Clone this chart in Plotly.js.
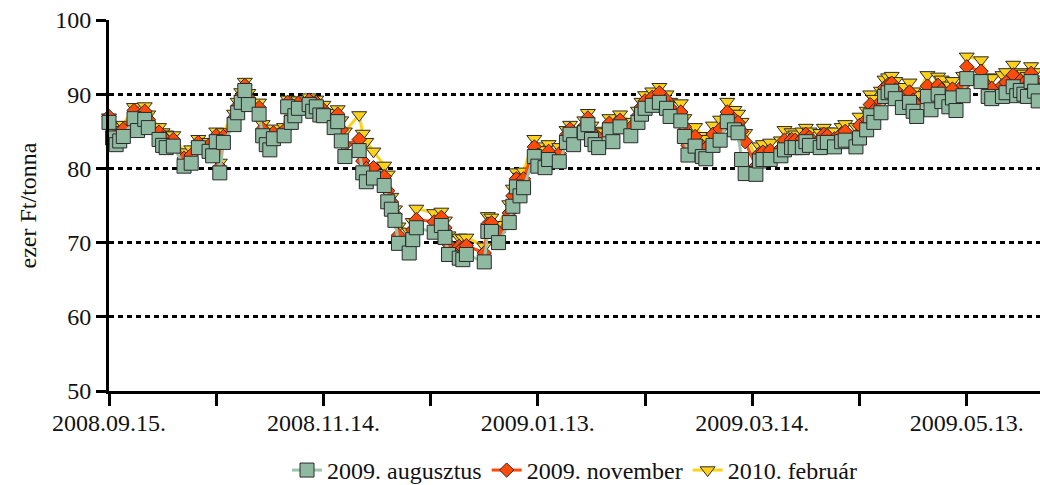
<!DOCTYPE html>
<html>
<head>
<meta charset="utf-8">
<script src="https://cdn.plot.ly/plotly-3.0.1.min.js"></script>
<style>html,body{margin:0;padding:0;background:#fff;}#chart{width:1040px;height:485px;}</style>
</head>
<body>
<div id="chart"></div>
<script>
const dates = [
"2008-09-15","2008-09-16","2008-09-17","2008-09-18","2008-09-19","2008-09-22","2008-09-23","2008-09-25","2008-09-26","2008-09-29",
"2008-09-30","2008-10-01","2008-10-03","2008-10-06","2008-10-08","2008-10-10","2008-10-13","2008-10-14","2008-10-15","2008-10-16",
"2008-10-17","2008-10-20","2008-10-21","2008-10-22","2008-10-23","2008-10-24","2008-10-27","2008-10-28","2008-10-29","2008-10-30",
"2008-10-31","2008-11-03","2008-11-04","2008-11-05","2008-11-06","2008-11-07","2008-11-10","2008-11-11","2008-11-12","2008-11-13",
"2008-11-14","2008-11-17","2008-11-18","2008-11-19","2008-11-20","2008-11-24","2008-11-25","2008-11-26","2008-11-28","2008-12-01",
"2008-12-02","2008-12-03","2008-12-04","2008-12-05","2008-12-08","2008-12-09","2008-12-10","2008-12-15","2008-12-17","2008-12-18",
"2008-12-19","2008-12-22","2008-12-23","2008-12-24","2008-12-29","2008-12-30","2008-12-31","2009-01-02","2009-01-05","2009-01-06",
"2009-01-07","2009-01-08","2009-01-09","2009-01-12","2009-01-13","2009-01-15","2009-01-16","2009-01-19","2009-01-21","2009-01-22",
"2009-01-23","2009-01-26","2009-01-27","2009-01-28","2009-01-29","2009-01-30","2009-02-02","2009-02-03","2009-02-05","2009-02-08",
"2009-02-10","2009-02-11","2009-02-12","2009-02-14","2009-02-16","2009-02-18","2009-02-19","2009-02-22","2009-02-23","2009-02-24",
"2009-02-26","2009-02-28","2009-03-01","2009-03-03","2009-03-05","2009-03-07","2009-03-09","2009-03-10","2009-03-11","2009-03-12",
"2009-03-15","2009-03-16","2009-03-17","2009-03-19","2009-03-22","2009-03-23","2009-03-25","2009-03-26","2009-03-28","2009-03-29",
"2009-03-30","2009-04-02","2009-04-03","2009-04-04","2009-04-06","2009-04-08","2009-04-09","2009-04-12","2009-04-13","2009-04-15",
"2009-04-16","2009-04-17","2009-04-19","2009-04-20","2009-04-21","2009-04-22","2009-04-23","2009-04-25","2009-04-27","2009-04-28",
"2009-04-29","2009-05-02","2009-05-03","2009-05-05","2009-05-06","2009-05-08","2009-05-09","2009-05-10","2009-05-12","2009-05-13",
"2009-05-17","2009-05-19","2009-05-20","2009-05-23","2009-05-24","2009-05-26","2009-05-27","2009-05-28","2009-05-29","2009-05-30",
"2009-05-31","2009-06-01","2009-06-02"
];
const aug2009 = [
86.2,84.1,83.2,83.7,84.3,86.7,85.1,86.6,85.5,83.9,
83.1,82.8,83.0,80.3,80.7,82.8,82.3,81.7,83.6,79.4,
83.5,85.9,87.5,88.9,90.5,88.6,87.3,84.4,83.2,82.5,
84.0,84.4,88.3,86.2,87.1,88.1,88.6,87.7,88.3,87.2,
87.1,85.5,86.3,83.7,81.6,82.4,79.4,78.2,78.7,77.7,
75.5,74.5,73.0,69.9,68.6,70.4,72.0,71.4,72.3,70.7,
68.4,67.9,67.7,68.4,67.4,71.5,71.5,70.0,72.7,74.9,
77.5,76.3,77.4,81.6,80.3,80.1,81.2,80.9,83.5,84.6,
83.2,84.8,85.9,83.9,83.2,82.8,85.2,83.6,85.6,84.4,
86.2,87.3,88.1,88.5,88.9,88.1,87.0,86.4,84.3,81.8,
83.0,81.6,81.3,83.1,83.8,86.3,85.2,84.8,81.2,79.3,
79.2,81.0,81.2,81.2,81.7,82.5,82.8,82.8,82.8,83.6,
83.1,82.8,83.5,83.5,82.9,83.6,83.8,82.9,84.1,85.2,
87.1,86.2,87.5,89.7,90.2,90.4,89.4,88.2,88.9,87.7,
87.0,89.7,87.9,90.0,89.0,88.3,89.5,87.8,89.8,92.1,
91.7,89.7,89.4,89.7,90.2,91.0,89.8,90.5,90.0,89.7,
91.7,90.4,89.1
];
const nov2009 = [
87.0,85.0,84.2,84.6,85.3,87.8,86.3,87.7,86.6,84.9,
84.1,83.8,83.9,81.4,81.8,83.5,83.1,82.5,84.4,80.2,
84.3,86.8,88.4,89.8,91.2,89.5,88.2,85.3,84.1,83.4,
84.8,85.1,88.9,87.0,87.8,88.8,89.2,88.4,88.9,88.0,
87.9,86.8,87.3,85.2,83.2,83.9,81.0,80.0,80.1,78.9,
77.0,75.5,73.8,71.0,70.0,71.7,73.1,72.8,73.4,72.0,
69.8,69.5,69.3,69.6,68.6,72.5,72.7,71.4,74.0,76.3,
78.6,77.8,78.6,82.9,81.8,81.4,82.3,82.0,84.5,85.3,
84.2,85.7,86.8,85.0,84.3,84.1,86.1,84.8,86.5,85.5,
87.1,88.3,89.1,89.6,90.2,89.2,88.2,87.6,85.6,83.1,
84.3,83.0,82.7,84.6,85.3,87.6,86.6,86.2,85.0,83.6,
80.3,82.0,82.2,82.4,82.7,83.8,83.9,83.8,84.0,84.6,
84.2,83.9,84.6,84.4,84.0,84.7,85.0,84.3,85.8,86.6,
88.6,87.8,89.0,90.9,91.3,91.5,90.6,89.6,90.3,89.2,
88.5,91.1,89.5,91.2,90.6,89.8,90.7,89.2,91.2,93.7,
93.1,91.0,90.8,91.2,91.6,92.6,91.3,91.8,91.5,91.2,
92.8,91.8,90.6
];
const feb2010 = [
86.9,85.6,84.8,85.2,85.9,88.3,87.0,88.4,87.3,85.6,
84.9,84.6,84.5,82.2,82.6,84.0,83.6,83.2,85.0,80.8,
84.9,87.4,89.0,90.3,91.7,90.2,88.9,86.0,84.9,84.1,
85.4,85.6,89.3,87.6,88.3,89.2,89.6,88.9,89.3,88.5,
88.6,87.5,88.0,86.5,85.0,87.2,84.7,83.6,82.3,80.4,
79.2,76.2,74.5,72.2,71.5,72.8,74.6,74.0,74.2,73.0,
71.0,70.7,70.6,70.7,69.5,73.6,73.4,72.4,75.2,77.3,
79.5,78.9,79.6,84.0,83.0,82.5,83.3,82.9,85.2,85.9,
85.0,86.5,87.5,85.8,85.1,84.9,86.8,85.6,87.3,86.3,
87.8,89.0,89.9,90.4,91.0,90.0,89.0,88.8,86.8,84.5,
85.6,84.4,84.0,85.8,86.6,89.0,87.9,87.4,86.3,84.8,
81.6,83.0,83.3,83.5,83.8,85.2,84.9,84.6,85.0,85.5,
85.0,84.8,85.5,85.0,85.0,85.6,86.0,85.6,87.0,87.8,
90.0,89.4,90.5,92.0,92.3,92.5,91.8,91.0,91.6,90.4,
89.9,92.6,91.0,92.4,92.0,91.2,91.8,90.5,92.5,95.1,
94.6,92.3,92.2,92.6,93.0,94.0,92.6,93.0,92.8,92.5,
93.8,93.0,92.0
];
const seriesNames = ["2009. augusztus","2009. november","2010. február"];
const xTickVals = ["2008-09-15","2008-10-15","2008-11-14","2008-12-14","2009-01-13","2009-02-12","2009-03-14","2009-04-13","2009-05-13"];
const xTickText = ["2008.09.15.","","2008.11.14.","","2009.01.13.","","2009.03.14.","","2009.05.13."];
const yTickVals = [50,60,70,80,90,100];

const FONT = '"Liberation Serif", "Times New Roman", serif';
const traces = [
  {x: dates, y: feb2010, name: seriesNames[2], type: 'scatter', mode: 'lines+markers', cliponaxis: false,
   line: {color: '#FFD21A', width: 3},
   marker: {symbol: 'triangle-down', size: 13, color: '#FFD21A', line: {color: '#2a2a2a', width: 1}}},
  {x: dates, y: nov2009, name: seriesNames[1], type: 'scatter', mode: 'lines+markers', cliponaxis: false,
   line: {color: '#FF4A0A', width: 3},
   marker: {symbol: 'diamond', size: 11, color: '#FF4A0A', line: {color: '#2a2a2a', width: 1}}},
  {x: dates, y: aug2009, name: seriesNames[0], type: 'scatter', mode: 'lines+markers', cliponaxis: false,
   line: {color: '#9CC3AC', width: 3},
   marker: {symbol: 'square', size: 14, color: '#8FB9A0', line: {color: '#2a2a2a', width: 1}}}
];
const layout = {
  width: 1040, height: 485,
  margin: {l: 109, r: 0, t: 20, b: 94},
  paper_bgcolor: '#fff', plot_bgcolor: '#fff',
  font: {family: FONT, size: 24, color: '#111'},
  showlegend: true,
  legend: {orientation: 'h', xref: 'paper', x: 0.5, xanchor: 'center',
           yref: 'container', y: 0.03, yanchor: 'middle',
           traceorder: 'reversed', font: {family: FONT, size: 24, color: '#111'}, itemwidth: 30},
  xaxis: {type: 'date', range: ['2008-09-15', '2009-06-02 12:00'],
          tickmode: 'array', tickvals: xTickVals, ticktext: xTickText,
          ticks: 'outside', ticklen: 12, tickwidth: 3, tickcolor: '#000', ticklabelstandoff: -4,
          showline: true, linecolor: '#000', linewidth: 3, showgrid: false, zeroline: false,
          tickfont: {family: FONT, size: 24, color: '#111'}},
  yaxis: {range: [50, 100], tickmode: 'array', tickvals: yTickVals,
          ticks: 'outside', ticklen: 10, tickwidth: 3, tickcolor: '#000',
          showline: true, linecolor: '#000', linewidth: 3,
          showgrid: true, gridcolor: '#000', gridwidth: 3, griddash: '5px,4px', zeroline: false,
          tickfont: {family: FONT, size: 24, color: '#111'},
          title: {text: 'ezer Ft/tonna', font: {family: FONT, size: 24, color: '#111'}, standoff: 12}}
};
Plotly.newPlot('chart', traces, layout, {displayModeBar: false, staticPlot: true});
</script>
</body>
</html>
